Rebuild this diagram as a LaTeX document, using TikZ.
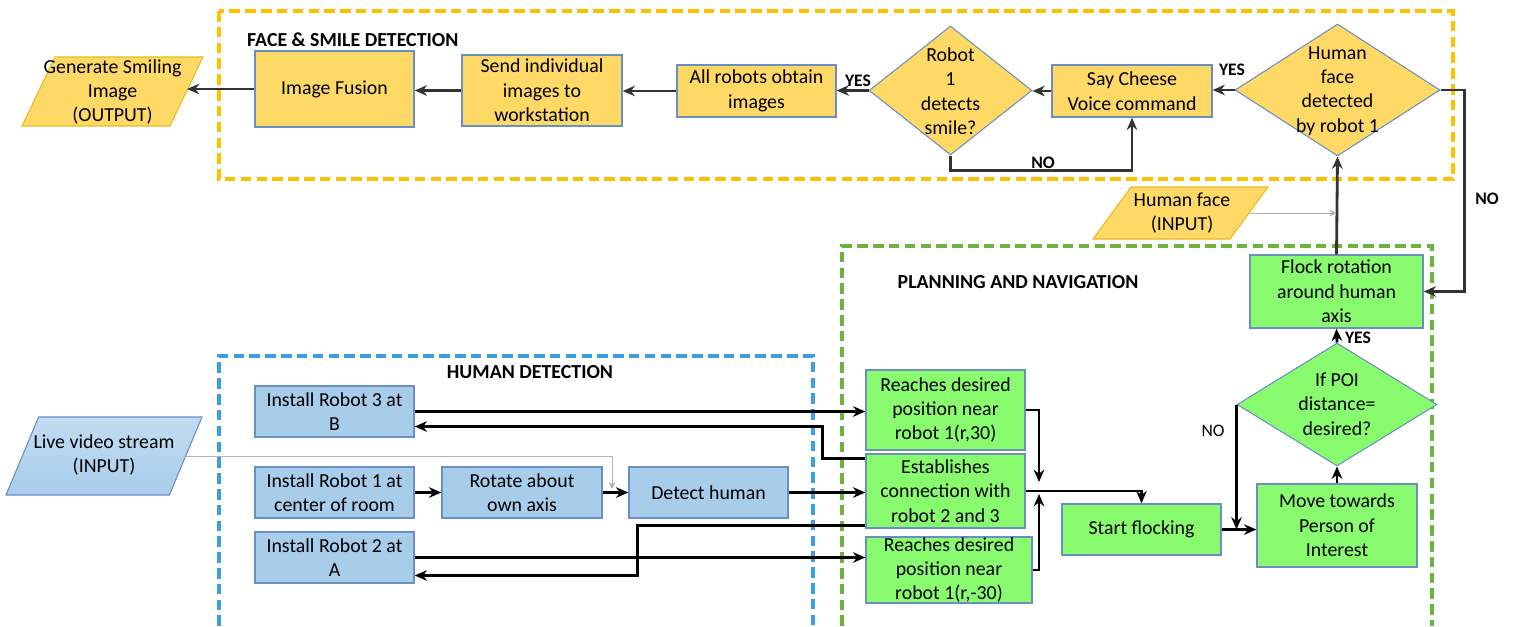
\documentclass[tikz,border=0pt]{standalone}
\usepackage{fontspec}
\setmainfont{Carlito}
\usetikzlibrary{shapes.geometric,arrows.meta,calc}
\definecolor{yfill}{HTML}{FFD966}
\definecolor{gfill}{HTML}{88FC6E}
\definecolor{bfill}{HTML}{A8CDEB}
\definecolor{boxline}{HTML}{6A8FC4}
\definecolor{yframe}{HTML}{FFC000}
\definecolor{bframe}{HTML}{3C9FE3}
\definecolor{gframe}{HTML}{6DB33F}
\definecolor{paraline}{HTML}{E8B923}
\definecolor{dark}{HTML}{333333}
\begin{document}
\begin{tikzpicture}[x=0.02cm,y=-0.02cm,
  font=\fontsize{11.3}{13.9}\selectfont,
  box/.style={draw=boxline,line width=0.8pt,inner sep=0pt,align=center},
  ybox/.style={box,fill=yfill},
  bbox/.style={box,fill=bfill},
  gbox/.style={box,fill=gfill},
  dia/.style={diamond,draw=boxline,line width=0.6pt,inner sep=0pt},
  para/.style={trapezium,trapezium stretches=true,inner sep=2pt,line width=0.6pt},
  txt/.style={align=center},
  arr/.style={line width=1.6pt,-{Stealth[length=7pt,width=6pt]}},
  thinarr/.style={draw=gray!60,line width=0.5pt,-{Stealth[length=4pt,width=4pt]}},
  lbl/.style={font=\fontsize{10}{12}\selectfont\bfseries},
  ttl/.style={font=\fontsize{11.3}{13.9}\selectfont\bfseries},
  frame/.style={line width=1.9pt,dash pattern=on 6pt off 3pt}
]
\useasboundingbox (0,0) rectangle (1514,626);

% frames
\draw[frame,yframe] (219,11) rectangle (1453,179);
\draw[frame,bframe] (219,626) -- (219,356) -- (813,356) -- (813,626);
\draw[frame,gframe] (842,626) -- (842,246) -- (1432,246) -- (1432,626);
\node[ttl,anchor=west] (ttlface) at (241,40) {FACE \& SMILE DETECTION};
\node[ttl] (ttlhuman) at (530,372) {HUMAN DETECTION};
\node[ttl] (ttlplan) at (1018,282) {PLANNING AND NAVIGATION};

% face and smile detection
\node[para,fill=yfill,draw=paraline,trapezium left angle=74,trapezium right angle=106,
  minimum width=3.62cm,minimum height=1.38cm] (gen) at (112.5,91.5) {};
\node[txt] (gentx) at (112.5,92) {Generate Smiling\\Image\\(OUTPUT)};
\node[ybox,minimum width=3.18cm,minimum height=1.52cm] (fuse) at (334.5,89) {Image Fusion};
\node[ybox,minimum width=3.2cm,minimum height=1.42cm] (send) at (542,90.5) {Send individual\\images to\\workstation};
\node[ybox,minimum width=3.18cm,minimum height=1.04cm] (allr) at (756.5,91) {All robots obtain\\images};
\node[dia,fill=yfill,minimum width=3.26cm,minimum height=2.58cm] (smile) at (950.5,90.5) {};
\node[txt] (smiletx) at (950.5,91) {Robot\\1\\detects\\smile?};
\node[ybox,minimum width=3.2cm,minimum height=1.04cm] (cheese) at (1132,91) {Say Cheese\\Voice command};
\node[dia,fill=yfill,minimum width=4.1cm,minimum height=2.64cm] (face) at (1337.5,90) {};
\node[txt] (facetx) at (1337.5,91) {Human\\face\\detected\\by robot 1};
\node[para,fill=yfill,draw=paraline,trapezium left angle=69,trapezium right angle=111,
  minimum width=3.5cm,minimum height=1.04cm] (hface) at (1180.5,213) {};
\node[txt] (hfacetx) at (1182,213) {Human face\\(INPUT)};

% planning and navigation
\node[gbox,minimum width=3.46cm,minimum height=1.46cm] (flock) at (1336.5,291.5) {Flock rotation\\around human\\axis};
\node[dia,fill=gfill,minimum width=4cm,minimum height=2.46cm] (poi) at (1337,404.5) {};
\node[txt] (poitx) at (1337,404) {If POI\\distance=\\desired?};
\node[gbox,minimum width=3.2cm,minimum height=1.66cm] (move) at (1337,525.5) {Move towards\\Person of\\Interest};
\node[gbox,minimum width=3.18cm,minimum height=1.02cm] (start) at (1141.5,529.5) {Start flocking};
\node[gbox,minimum width=3.18cm,minimum height=1.6cm] (reach1) at (945.5,410) {Reaches desired\\position near\\robot 1(r,30)};
\node[gbox,minimum width=3.18cm,minimum height=1.48cm] (est) at (945.5,491) {Establishes\\connection with\\robot 2 and 3};
\node[gbox,minimum width=3.32cm,minimum height=1.32cm] (reach2) at (949,570) {Reaches desired\\position near\\robot 1(r,-30)};

% human detection
\node[para,top color=bfill!70!white,bottom color=bfill,draw=boxline,trapezium left angle=76,trapezium right angle=104,
  minimum width=3.92cm,minimum height=1.56cm] (live) at (104,456) {};
\node[txt] (livetx) at (104,455) {Live video stream\\(INPUT)};
\node[bbox,minimum width=3.18cm,minimum height=1.02cm] (rob3) at (334.5,411.5) {Install Robot 3 at\\B};
\node[bbox,minimum width=3.18cm,minimum height=1.02cm] (rob1) at (334.5,492.5) {Install Robot 1 at\\center of room};
\node[bbox,minimum width=3.18cm,minimum height=1.02cm] (rob2) at (334.5,557.5) {Install Robot 2 at\\A};
\node[bbox,minimum width=3.2cm,minimum height=1.02cm] (rot) at (522,492.5) {Rotate about\\own axis};
\node[bbox,minimum width=3.18cm,minimum height=1.02cm] (det) at (708.5,492.5) {Detect human};

% top connectors
\draw[arr,dark] (fuse.west) -- (fuse.west -| gen.east);
\draw[arr,dark] (send.west) -- (fuse.east |- send.west);
\draw[arr,dark] (allr.west) -- (send.east |- allr.west);
\draw[arr,dark] (smile.west) -- (allr.east |- smile.west);
\draw[arr,dark] (cheese.west) -- (smile.east |- cheese.west);
\draw[arr,dark] (face.west) -- (cheese.east |- face.west);
\draw[arr,dark] (smile.south) -- ++(0,15) -| (cheese.south);
\draw[arr,dark] (face.east) -- ++(24,0) |- (flock.east);
\draw[arr,dark] (flock.north) -- (face.south);
\draw[thinarr] (hface.east) -- (flock.north |- hface.east);
\node[lbl] (yes1) at (858,81) {YES};
\node[lbl] (yes2) at (1232,70) {YES};
\node[lbl] (no1) at (1043,163) {NO};
\node[lbl] (no2) at (1487,199) {NO};

% bottom connectors
\coordinate (tap) at (612,489);
\coordinate (jn) at (1039,491);
\draw[thinarr] (live.east) -| (tap);
\draw[arr] (rob1.east) -- (rot.west);
\draw[arr] (rot.east) -- (det.west);
\draw[arr] (det.east) -- (est.west |- det.east);
\draw[arr] (rob3.east) -- (rob3.east -| reach1.west);
\draw[arr] ($(est.north west)+(0,5)$) -- ++(-43,0) |- ($(rob3.east)+(0,15)$);
\draw[arr] ($(est.south west)+(0,-3)$) -- ++(-228,0) |- ($(rob2.east)+(0,18)$);
\draw[arr] (rob2.east) -- (rob2.east -| reach2.west);
\draw[arr] (reach1.east) -| ($(jn)+(0,-9)$);
\draw[arr] (reach2.east) -| ($(jn)+(0,3)$);
\draw[arr] (est.east) -| (start.north);
\draw[arr] (start.east) -- (start.east -| move.west);
\draw[arr] (poi.west) -- (poi.west |- start.east);
\draw[arr] (move.north) -- (poi.south);
\draw[arr] (poi.north) -- (flock.south);
\node[lbl,font=\fontsize{10}{12}\selectfont] (no3) at (1213,431) {NO};
\node[lbl] (yes3) at (1358,338) {YES};
\end{tikzpicture}
\end{document}
